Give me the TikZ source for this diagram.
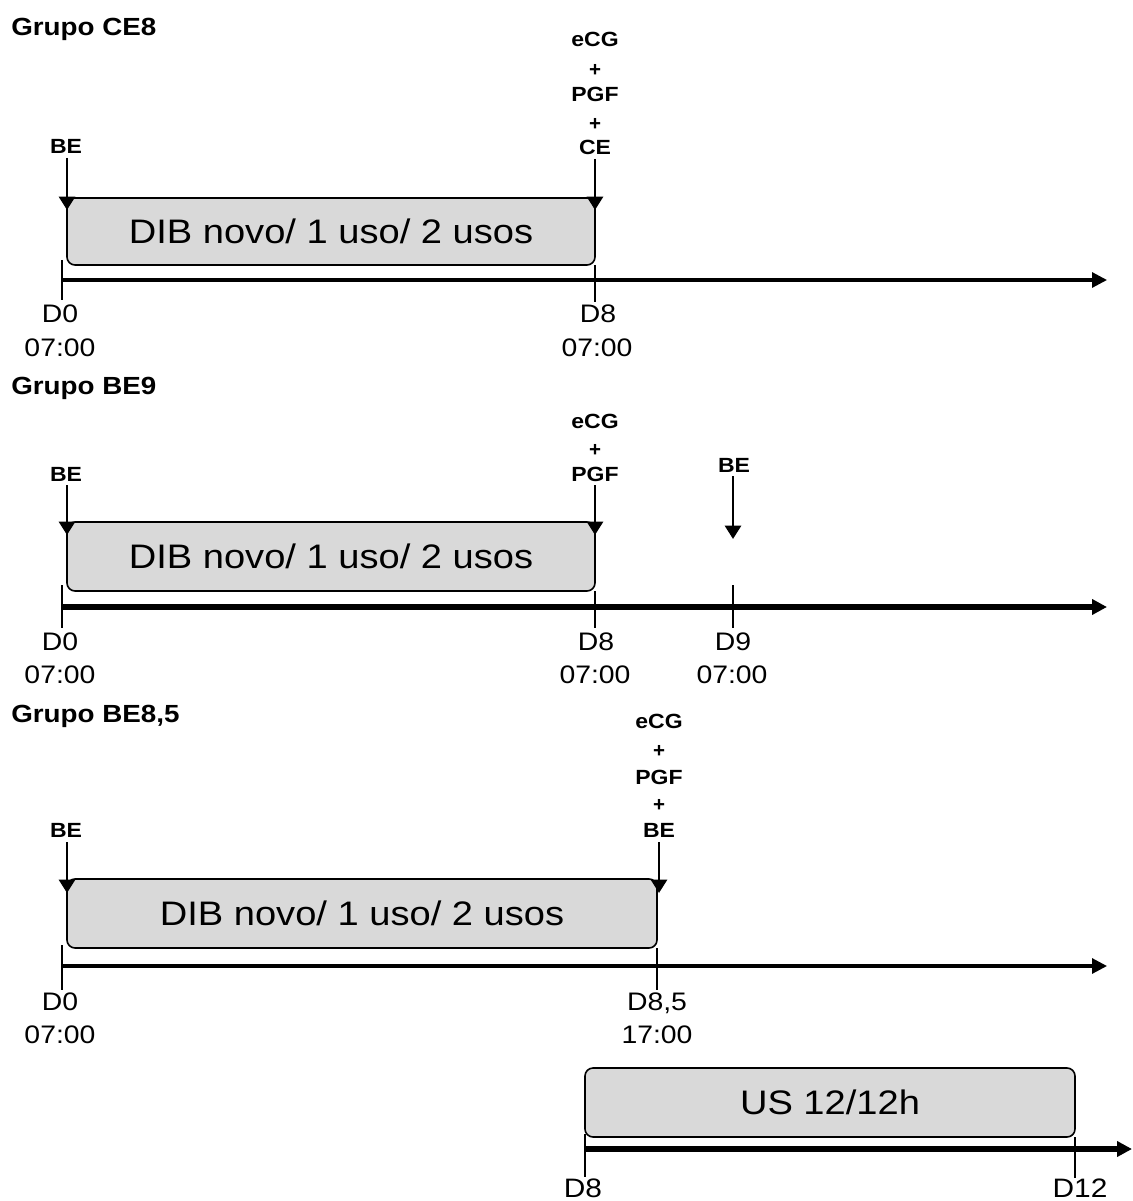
\documentclass[tikz,border=0pt]{standalone}
\usepackage{fontspec}
\setmainfont{Liberation Sans}
\usepackage{graphicx}
\usetikzlibrary{arrows.meta}
\definecolor{boxgray}{HTML}{D9D9D9}
\newcommand{\hs}[1]{\scalebox{1.12}[1]{#1}}
\tikzset{
 grp/.style={anchor=base west, inner sep=0pt, font=\fontsize{18.6}{21}\selectfont\bfseries},
 evt/.style={anchor=base, inner sep=0pt, font=\fontsize{15.4}{18}\selectfont\bfseries},
 plus/.style={anchor=center, inner sep=0pt, font=\fontsize{15.4}{18}\selectfont\bfseries},
 day/.style={anchor=base, inner sep=0pt, font=\fontsize{19}{22}\selectfont},
 period/.style={draw=black, line width=1.2pt, fill=boxgray, rounded corners=6pt, inner sep=0pt, font=\fontsize{25.5}{30}\selectfont},
 axisthin/.style={line width=2.3pt, -{Triangle[length=11.25pt,width=11.25pt]}},
 axisthick/.style={line width=4.2pt, -{Triangle[length=11.25pt,width=11.25pt]}},
 tickline/.style={line width=1.5pt},
 event/.style={line width=2pt, -{Triangle[length=10pt,width=12pt]}},
}
\begin{document}
\begin{tikzpicture}[x=0.75pt,y=-0.75pt]
\useasboundingbox (0,0) rectangle (1132,1201);

%% ---------------- Grupo CE8 ----------------
\node[grp] (g1) at (11,35.4) {\hs{Grupo CE8}};
\node[period, minimum width=396pt, minimum height=50.25pt] (box1) at (331,231.5) {\hs{DIB novo/ 1 uso/ 2 usos}};
\coordinate (a1s) at (62,280); \coordinate (a1e) at (1107,280);
\draw[axisthin] (a1s) -- (a1e);
\coordinate (t1a) at (62,260); \coordinate (t1b) at (62,300);
\coordinate (t1c) at (595,265); \coordinate (t1d) at (595,302);
\draw[tickline] (t1a) -- (t1b);
\draw[tickline] (t1c) -- (t1d);
\node[evt] (be1) at (66,154) {\hs{BE}};
\coordinate (e1s) at (67,158); \coordinate (e1t) at (67,210);
\draw[event] (e1s) -- (e1t);
\node[evt] (ecg1) at (595,47) {\hs{eCG}};
\node[plus] (p1a) at (595,70) {+};
\node[evt] (pgf1) at (595,102) {\hs{PGF}};
\node[plus] (p1b) at (595,124) {+};
\node[evt] (ce1) at (595,155) {\hs{CE}};
\coordinate (e2s) at (595,159); \coordinate (e2t) at (595,210);
\draw[event] (e2s) -- (e2t);
\node[day] (d01) at (60,323) {\hs{D0}};
\node[day] (h01) at (60,357) {\hs{07:00}};
\node[day] (d81) at (598,323) {\hs{D8}};
\node[day] (h81) at (597,357) {\hs{07:00}};

%% ---------------- Grupo BE9 ----------------
\node[grp] (g2) at (11,394) {\hs{Grupo BE9}};
\node[period, minimum width=396pt, minimum height=51.75pt] (box2) at (331,556.5) {\hs{DIB novo/ 1 uso/ 2 usos}};
\coordinate (a2s) at (62,607); \coordinate (a2e) at (1107,607);
\draw[axisthick] (a2s) -- (a2e);
\coordinate (t2a) at (62,585); \coordinate (t2b) at (62,628);
\coordinate (t2c) at (595,591); \coordinate (t2d) at (595,628);
\coordinate (t2e) at (733,585); \coordinate (t2f) at (733,628);
\draw[tickline] (t2a) -- (t2b);
\draw[tickline] (t2c) -- (t2d);
\draw[tickline] (t2e) -- (t2f);
\node[evt] (be2) at (66,481) {\hs{BE}};
\coordinate (e3s) at (67,485); \coordinate (e3t) at (67,535);
\draw[event] (e3s) -- (e3t);
\node[evt] (ecg2) at (595,428) {\hs{eCG}};
\node[plus] (p2a) at (595,450) {+};
\node[evt] (pgf2) at (595,481) {\hs{PGF}};
\coordinate (e4s) at (595,485); \coordinate (e4t) at (595,535);
\draw[event] (e4s) -- (e4t);
\node[evt] (be3) at (734,472) {\hs{BE}};
\coordinate (e5s) at (733,476); \coordinate (e5t) at (733,539);
\draw[event] (e5s) -- (e5t);
\node[day] (d02) at (60,650) {\hs{D0}};
\node[day] (h02) at (60,683) {\hs{07:00}};
\node[day] (d82) at (596,650) {\hs{D8}};
\node[day] (h82) at (595,683) {\hs{07:00}};
\node[day] (d92) at (733,650) {\hs{D9}};
\node[day] (h92) at (732,683) {\hs{07:00}};

%% ---------------- Grupo BE8,5 ----------------
\node[grp] (g3) at (11,722) {\hs{Grupo BE8,5}};
\node[period, minimum width=442.5pt, minimum height=51.75pt] (box3) at (362,913.5) {\hs{DIB novo/ 1 uso/ 2 usos}};
\coordinate (a3s) at (62,966); \coordinate (a3e) at (1107,966);
\draw[axisthin] (a3s) -- (a3e);
\coordinate (t3a) at (62,945); \coordinate (t3b) at (62,990);
\coordinate (t3c) at (657,948); \coordinate (t3d) at (657,990);
\draw[tickline] (t3a) -- (t3b);
\draw[tickline] (t3c) -- (t3d);
\node[evt] (be4) at (66,837) {\hs{BE}};
\coordinate (e6s) at (67,842); \coordinate (e6t) at (67,893);
\draw[event] (e6s) -- (e6t);
\node[evt] (ecg3) at (659,728) {\hs{eCG}};
\node[plus] (p3a) at (659,751) {+};
\node[evt] (pgf3) at (659,784) {\hs{PGF}};
\node[plus] (p3b) at (659,805) {+};
\node[evt] (be5) at (659,837) {\hs{BE}};
\coordinate (e7s) at (659,842); \coordinate (e7t) at (659,893);
\draw[event] (e7s) -- (e7t);
\node[day] (d03) at (60,1010) {\hs{D0}};
\node[day] (h03) at (60,1043) {\hs{07:00}};
\node[day] (d853) at (657,1010) {\hs{D8,5}};
\node[day] (h173) at (657,1043) {\hs{17:00}};

%% ---------------- US 12/12h ----------------
\node[period, minimum width=367.5pt, minimum height=51.75pt] (box4) at (830,1102.5) {\hs{US 12/12h}};
\coordinate (a4s) at (585,1149); \coordinate (a4e) at (1132,1149);
\draw[axisthick] (a4s) -- (a4e);
\coordinate (t4a) at (585,1134); \coordinate (t4b) at (585,1177);
\coordinate (t4c) at (1075,1137); \coordinate (t4d) at (1075,1178);
\draw[tickline] (t4a) -- (t4b);
\draw[tickline] (t4c) -- (t4d);
\node[day, font=\fontsize{20}{22}\selectfont] (d84) at (583,1197) {\hs{D8}};
\node[day, font=\fontsize{20}{22}\selectfont] (d124) at (1080,1197) {\hs{D12}};
\end{tikzpicture}
\end{document}
